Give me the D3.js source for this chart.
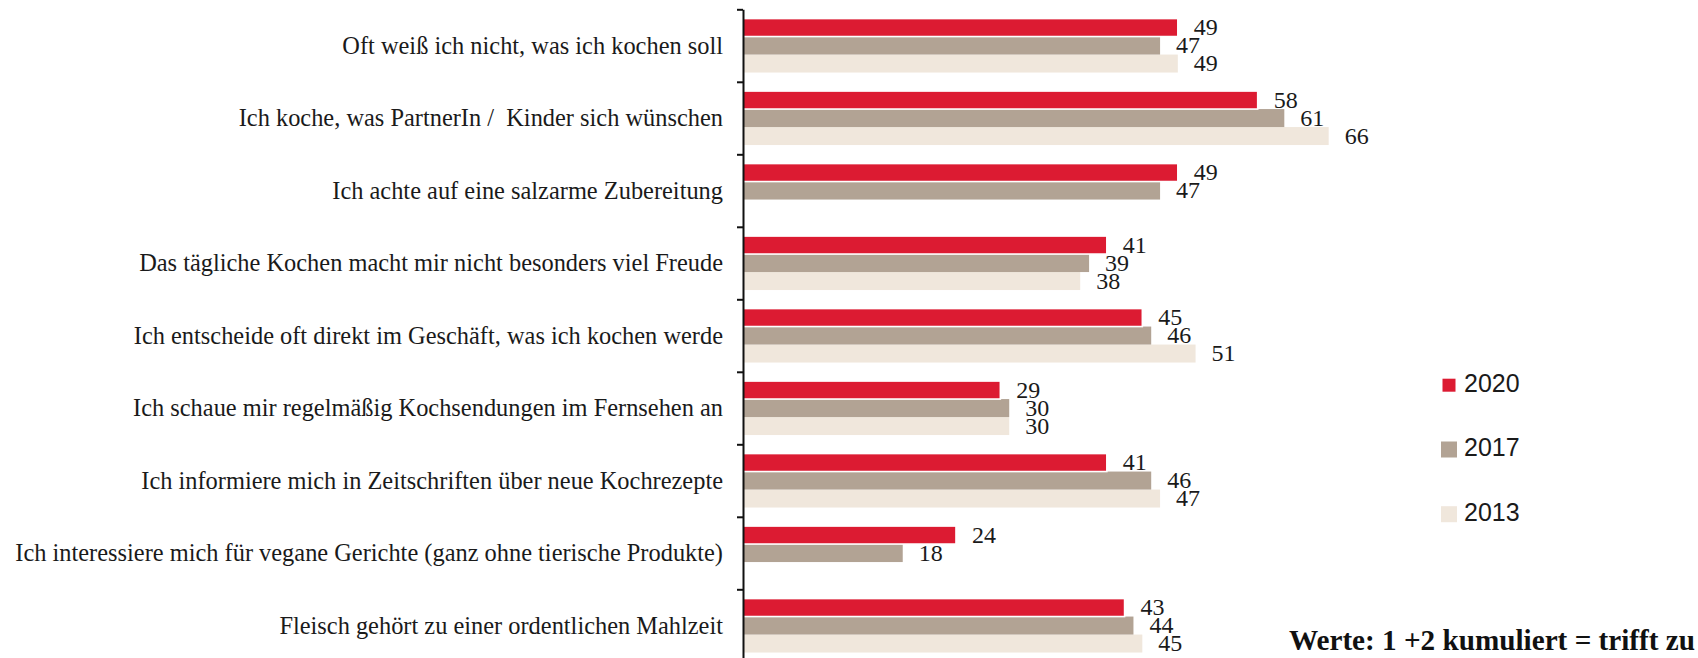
<!DOCTYPE html>
<html><head><meta charset="utf-8">
<script src="https://cdn.jsdelivr.net/npm/d3@7"></script>
<style>body{margin:0;background:#fff}svg{display:block}text{white-space:pre}</style>
</head><body>
<script>
const categories = [
  "Oft weiß ich nicht, was ich kochen soll",
  "Ich koche, was PartnerIn /  Kinder sich wünschen",
  "Ich achte auf eine salzarme Zubereitung",
  "Das tägliche Kochen macht mir nicht besonders viel Freude",
  "Ich entscheide oft direkt im Geschäft, was ich kochen werde",
  "Ich schaue mir regelmäßig Kochsendungen im Fernsehen an",
  "Ich informiere mich in Zeitschriften über neue Kochrezepte",
  "Ich interessiere mich für vegane Gerichte (ganz ohne tierische Produkte)",
  "Fleisch gehört zu einer ordentlichen Mahlzeit"
];
const seriesNames = ["2020", "2017", "2013"];
const values2020 = [49, 58, 49, 41, 45, 29, 41, 24, 43];
const values2017 = [47, 61, 47, 39, 46, 30, 46, 18, 44];
const values2013 = [49, 66, null, 38, 51, 30, 47, null, 45];
const colors = ["#dc1b32", "#b2a394", "#f0e7dc"];
const footnote = "Werte: 1 +2 kumuliert = trifft zu";

const W = 1698, H = 658;
const svg = d3.select("body").append("svg").attr("width", W).attr("height", H);

const seriesVals = [values2020, values2017, values2013];
const axisX = 743;
const x = d3.scaleLinear().domain([0, 100]).range([axisX, axisX + 887.4]);
const y = d3.scaleBand().domain(categories).range([9.3, 661.8]).padding(0);
const yInner = d3.scaleBand().domain(seriesNames).range([9.25, 63.25]).padding(0);

const data = [];
categories.forEach((c, i) => {
  seriesNames.forEach((s, j) => {
    const v = seriesVals[j][i];
    if (v !== null && v !== undefined) data.push({cat: c, s, j, v});
  });
});

const order = [2, 1, 0];
const g = svg.append("g");
order.forEach(j => {
  g.selectAll(null).data(data.filter(d => d.j === j)).enter().append("rect")
    .attr("x", x(0))
    .attr("y", d => y(d.cat) + yInner(d.s))
    .attr("width", d => x(d.v) - x(0))
    .attr("height", yInner.bandwidth())
    .attr("fill", colors[j])
    .attr("stroke", j === 0 ? "#fff" : "none")
    .attr("stroke-width", j === 0 ? 1.6 : 0);
});

svg.append("g").selectAll("text").data(data).enter().append("text")
  .attr("x", d => x(d.v) + 16)
  .attr("y", d => y(d.cat) + yInner(d.s) + yInner.bandwidth() / 2 + 7.5)
  .attr("font-family", "'Liberation Serif', serif")
  .attr("font-size", 24)
  .attr("fill", "#1a1a1a")
  .text(d => d.v);

const yb = d3.scaleLinear().domain([0, categories.length]).range([9.3, 661.8]);
const axis = svg.append("g").attr("transform", `translate(${axisX},0)`)
  .call(d3.axisLeft(yb).tickValues(d3.range(0, categories.length + 1)).tickFormat("").tickSize(6).tickSizeOuter(0));
axis.select(".domain").attr("stroke", "#111").attr("stroke-width", 2);
axis.selectAll(".tick line").attr("stroke", "#111").attr("stroke-width", 2);

svg.append("g").selectAll("text").data(categories).enter().append("text")
  .attr("x", axisX - 20)
  .attr("y", d => y(d) + y.bandwidth() / 2 + 8)
  .attr("text-anchor", "end")
  .attr("font-family", "'Liberation Serif', serif")
  .attr("font-size", 24.4)
  .attr("fill", "#1a1a1a")
  .text(d => d);

const legY = [391.7, 456, 520.7];
const legSize = [13, 16, 16];
const leg = svg.append("g");
seriesNames.forEach((s, j) => {
  const sz = legSize[j];
  leg.append("rect")
    .attr("x", 1449 - sz / 2).attr("y", legY[j] - 6.5 - sz / 2)
    .attr("width", sz).attr("height", sz).attr("fill", colors[j]);
  leg.append("text")
    .attr("x", 1464).attr("y", legY[j])
    .attr("font-family", "'Liberation Sans', Arial, sans-serif")
    .attr("font-size", 25).attr("fill", "#1a1a1a")
    .text(s);
});

svg.append("text")
  .attr("x", 1695).attr("y", 650)
  .attr("text-anchor", "end")
  .attr("font-family", "'Liberation Serif', serif")
  .attr("font-weight", "bold")
  .attr("font-size", 29.2)
  .attr("fill", "#111")
  .text(footnote);
</script>
</body></html>
